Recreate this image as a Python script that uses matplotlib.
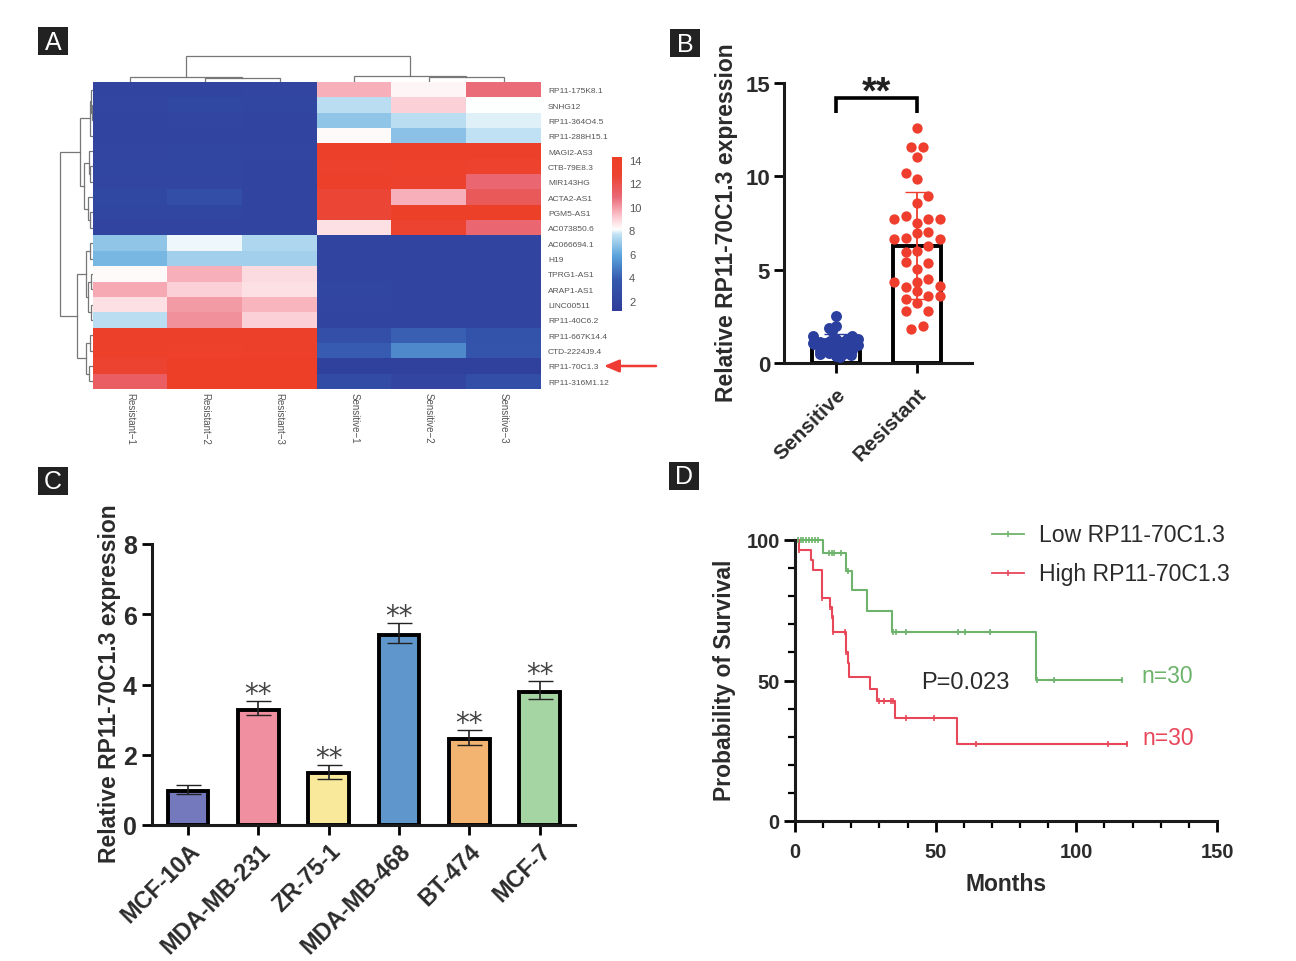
import numpy as np
import matplotlib.pyplot as plt
from matplotlib.colors import LinearSegmentedColormap, Normalize

plt.rcParams['font.family'] = ['Liberation Sans', 'DejaVu Sans']

W, H = 1296, 962

# panel A
genes = ['RP11-175K8.1', 'SNHG12', 'RP11-364O4.5', 'RP11-288H15.1', 'MAGI2-AS3', 'CTB-79E8.3',
         'MIR143HG', 'ACTA2-AS1', 'PGM5-AS1', 'AC073850.6', 'AC066694.1', 'H19', 'TPRG1-AS1',
         'ARAP1-AS1', 'LINC00511', 'RP11-40C6.2', 'RP11-667K14.4', 'CTD-2224J9.4', 'RP11-70C1.3',
         'RP11-316M1.12']
samples = ['Resistant-1', 'Resistant-2', 'Resistant-3', 'Sensitive-1', 'Sensitive-2', 'Sensitive-3']
heat = [[2.0, 2.0, 2.1, 9.6, 8.3, 10.8],
        [2.1, 2.3, 2.2, 7.5, 9.0, 8.1],
        [2.0, 2.1, 2.0, 6.8, 7.5, 7.9],
        [2.0, 2.0, 2.0, 8.2, 6.7, 7.6],
        [2.1, 2.2, 2.1, 13.6, 13.6, 13.6],
        [2.2, 2.2, 2.0, 13.4, 13.5, 13.2],
        [2.1, 2.1, 2.0, 13.6, 13.3, 11.0],
        [2.3, 2.9, 2.0, 12.6, 9.6, 11.6],
        [2.2, 2.2, 2.0, 12.6, 13.8, 13.8],
        [2.0, 2.0, 2.0, 8.7, 13.0, 11.0],
        [6.8, 8.0, 7.3, 2.0, 2.0, 2.0],
        [6.4, 7.1, 7.1, 2.0, 2.0, 2.0],
        [8.2, 9.6, 8.8, 2.0, 2.0, 2.0],
        [9.7, 9.0, 8.7, 2.2, 2.0, 2.0],
        [8.7, 10.0, 9.5, 2.1, 2.0, 2.0],
        [7.5, 10.2, 9.0, 2.0, 2.0, 2.0],
        [13.7, 13.6, 13.7, 3.0, 4.0, 3.3],
        [13.6, 13.5, 13.7, 3.9, 5.1, 3.4],
        [13.0, 14.0, 14.0, 1.7, 1.7, 1.7],
        [11.4, 14.0, 14.0, 2.7, 2.1, 2.9]]
cbar_ticks = [2, 4, 6, 8, 10, 12, 14]
# nested merges: (height, left, right), an int is a leaf
col_tree = (26, (5, 0, (4, 1, 2)), (6, 3, (5, 4, 5)))
row_tree = (33,
            (13, (3, (2, 0, (1, 1, 2)), 3),
             (9, (4, 4, (3, 5, 6)), (5, 7, (3, 8, 9)))),
            (16, (7, (3, 10, 11), (5, (2, 12, 13), (2, 14, 15))),
             (7, (3, 16, 17), (4, 18, 19))))

# panel B
sens_mean, sens_up, sens_low = 1.1, 1.55, 0.6
res_mean, res_up, res_low = 6.25, 9.14, 3.42
sens_off = [0, 0, -.09, -.05, -.28, -.28, -.2, -.14, -.07, 0, .07, .14, .2, .27, -.27, -.2, -.14, -.07, 0,
            .07, .14, .2, .27, -.2, -.14, -.05, .02, .1, .2, -.2, -.09, 0, .09, .18, .05]
sens_val = [2.5, 1.98, 1.85, 1.72, 1.42, 1.08, 1.15, 1.05, 1.2, 1.3, 1.12, 1.28, 1.42, 1.3, 1.0, 0.98, .92,
            .95, 1.02, .92, .98, 1.0, .95, .62, .72, .68, .75, .62, .7, .48, .55, .35, .5, .42, .3]
res_off = [0, -.07, .07, 0, -.14, 0, .14, 0, -.28, -.14, .14, .28, 0, 0, .14, -.28, -.14, .28, .14, -.14, 0,
           -.14, .14, 0, -.28, 0, .14, -.14, .28, 0, .14, .28, -.14, 0, -.14, .14, -.07, .07]
res_val = [12.59, 11.57, 11.57, 11.02, 10.2, 9.87, 8.96, 8.59, 7.71, 7.87, 7.73, 7.7, 7.52, 6.94, 7.02, 6.66,
           6.68, 6.66, 6.27, 5.96, 6.02, 5.39, 5.36, 5.03, 4.36, 4.34, 4.5, 4.07, 4.11, 3.84, 3.57, 3.57, 3.45,
           3.2, 2.79, 2.77, 1.84, 2.0]

# panel C
cells = ['MCF-10A', 'MDA-MB-231', 'ZR-75-1', 'MDA-MB-468', 'BT-474', 'MCF-7']
cell_val = [0.98, 3.27, 1.47, 5.42, 2.45, 3.8]
cell_up = [1.14, 3.53, 1.7, 5.75, 2.7, 4.1]
cell_low = [0.88, 3.13, 1.3, 5.18, 2.28, 3.6]
cell_col = ['#7479bd', '#f08fa0', '#f9e99a', '#5f97cc', '#f3b472', '#a5d5a2']
cell_sig = ['', '**', '**', '**', '**', '**']

# panel D
low_t = [0, 10.1, 18.1, 20.2, 25.5, 34.4, 85.7, 116.3]
low_s = [100, 95.3, 89, 82.2, 74.7, 67.1, 50.3, 50.3]
low_cens_t = [1, 2, 3, 4, 5, 6, 7, 8, 12, 13, 14, 16.3, 18.7, 35, 36, 39.5, 58, 60.5, 69.4, 86, 92, 116.3]
high_t = [0, 1.5, 5.6, 6.5, 9.7, 12.4, 13, 13.6, 18, 18.7, 19.2, 26.7, 29, 35.4, 57.6, 118]
high_s = [100, 96.6, 93, 89.4, 79.2, 76.3, 73, 67.4, 60, 56.4, 51.4, 47, 42.8, 36.8, 27.4, 27.4]
high_cens_t = [1.5, 9.7, 12.4, 13, 13.6, 17.6, 18.3, 30, 31.5, 34, 35, 39.5, 49.5, 64.5, 111.3, 118]

GREEN = '#6db36b'
RED = '#e8475a'
TXT = '#2b2b2b'


def px_axes(x0, y0, x1, y1):
    return fig.add_axes([x0 / W, 1 - y1 / H, (x1 - x0) / W, (y1 - y0) / H])


def draw_tree(ax, node, horizontal):
    # returns leaf position and height of a merge, and draws the bracket
    if isinstance(node, int):
        return node + 0.5, 0
    h, a, b = node
    pa, ha = draw_tree(ax, a, horizontal)
    pb, hb = draw_tree(ax, b, horizontal)
    xs = [pa, pa, pb, pb]
    ys = [ha, h, h, hb]
    if horizontal:
        ax.plot(xs, ys, color='#777777', lw=0.9, solid_joinstyle='miter')
    else:
        ax.plot(ys, xs, color='#777777', lw=0.9, solid_joinstyle='miter')
    return (pa + pb) / 2, h


def style_axis(ax, lw=2.2):
    for s in ['top', 'right']:
        ax.spines[s].set_visible(False)
    for s in ['left', 'bottom']:
        ax.spines[s].set_linewidth(lw)
        ax.spines[s].set_color('#1a1a1a')
    ax.patch.set_alpha(0)


fig = plt.figure(figsize=(W / 100, H / 100), dpi=100)

# overlay in pixels, for the panel letters and the arrow
over = fig.add_axes([0, 0, 1, 1], zorder=5)
over.set_xlim(0, W)
over.set_ylim(H, 0)
over.axis('off')
for letter, lx, ly in [('A', 38, 28), ('B', 670, 30), ('C', 38, 468), ('D', 669, 463)]:
    over.add_patch(plt.Rectangle((lx, ly), 30, 28, color='#222222', lw=0))
    over.text(lx + 15, ly + 14.5, letter, color='white', fontsize=18, ha='center', va='center')

# A: heatmap
cmap = LinearSegmentedColormap.from_list('heat', [(0, '#2f3c9a'), (0.2, '#3558ae'), (0.36, '#5ba5dc'),
                                                  (0.5, '#c5e4f5'), (0.53, '#ffffff'), (0.62, '#fbc4cc'),
                                                  (0.74, '#ea6a78'), (0.88, '#ec4433'), (1, '#ee3f26')])
norm = Normalize(1.15, 14.25)
ax = px_axes(93, 83, 541, 390)
ax.imshow(np.array(heat), cmap=cmap, norm=norm, aspect='auto', interpolation='nearest')
ax.yaxis.tick_right()
ax.set_yticks(range(len(genes)))
ax.set_yticklabels(genes, fontsize=6, color='#555555')
ax.set_xticks(range(len(samples)))
ax.set_xticklabels([s.replace('-', '\u2212') for s in samples], rotation=-90, fontsize=7, color='#555555')
ax.tick_params(axis='y', length=0, pad=5)
ax.tick_params(axis='x', length=0, pad=2)
for s in ax.spines.values():
    s.set_visible(False)

top = px_axes(93, 50, 541, 83)
top.set_xlim(0, 6)
top.set_ylim(0, 33)
top.axis('off')
draw_tree(top, col_tree, True)
left = px_axes(53, 83, 93, 390)
left.set_xlim(40, 0)
left.set_ylim(20, 0)
left.axis('off')
draw_tree(left, row_tree, False)

cax = px_axes(612, 158, 622, 312)
cax.imshow(np.linspace(14.25, 1.15, 256)[:, None], cmap=cmap, norm=norm, aspect='auto',
           extent=[0, 1, 1.15, 14.25])
cax.set_xticks([])
cax.yaxis.tick_right()
cax.set_yticks(cbar_ticks)
cax.tick_params(length=0, labelsize=8, labelcolor='#555555', pad=5)
for s in cax.spines.values():
    s.set_visible(False)

over.annotate('', xy=(604, 367), xytext=(656, 367),
              arrowprops=dict(arrowstyle='-|>,head_length=0.9,head_width=0.38', color='#ee3b33', lw=1.8,
                              shrinkA=0, shrinkB=0))

# B: bars with dots
ax = px_axes(784, 84, 972, 364)
ax.set_xlim(1 - 52 / 81, 1 + 136 / 81)
ax.set_ylim(0, 15)
ax.bar([1, 2], [sens_mean, res_mean], width=0.6, facecolor='white', edgecolor='black', linewidth=2.8, zorder=1)
ax.errorbar([1], [sens_mean], yerr=[[sens_mean - sens_low], [sens_up - sens_mean]], color='#2b3f9e', capsize=9,
            lw=1.3, zorder=3)
ax.errorbar([2], [res_mean], yerr=[[res_mean - res_low], [res_up - res_mean]], color='#ef3e2e', capsize=9,
            lw=1.3, zorder=3)
ax.scatter(1 + np.array(sens_off), sens_val, s=62, color='#2b3f9e', linewidths=0, zorder=4, clip_on=False)
ax.scatter(2 + np.array(res_off), res_val, s=55, color='#ef3e2e', linewidths=0, zorder=4, clip_on=False)
ax.plot([1, 1, 2, 2], [13.4, 14.2, 14.2, 13.4], color='black', lw=2.6, solid_joinstyle='miter',
        solid_capstyle='butt')
ax.text(1.5, 14.5, '**', fontsize=27, fontweight='bold', ha='center', va='center', color='#222222')
style_axis(ax)
ax.set_yticks([0, 5, 10, 15])
ax.set_xticks([1, 2])
ax.set_xticklabels(['Sensitive', 'Resistant'], rotation=45, ha='right', rotation_mode='anchor')
ax.tick_params(width=2, length=7, labelsize=15, labelcolor=TXT, pad=8)
for t in ax.get_xticklabels() + ax.get_yticklabels():
    t.set_fontweight('bold')
ax.tick_params(axis='y', labelsize=16, pad=3)
over.text(726, 223, 'Relative RP11-70C1.3 expression', rotation=90, fontsize=16.5, fontweight='bold', color=TXT,
          ha='center', va='center')

# C: cell lines
ax = px_axes(152, 545, 575, 826)
ax.set_xlim(1 - 36 / 70.3, 1 + 387 / 70.3)
ax.set_ylim(0, 8)
pos = np.arange(1, 7)
ax.bar(pos, cell_val, width=0.58, color=cell_col, edgecolor='black', linewidth=2.8, zorder=2)
ax.errorbar(pos, cell_val, yerr=[np.array(cell_val) - cell_low, np.array(cell_up) - cell_val], fmt='none',
            ecolor='#222222', capsize=9, lw=1.2, zorder=3)
for p, u, sig in zip(pos, cell_up, cell_sig):
    ax.text(p, u + 0.2, sig, fontsize=20, family='DejaVu Sans', ha='center', va='center', color='#444444')
style_axis(ax)
ax.set_yticks([0, 2, 4, 6, 8])
ax.set_xticks(pos)
ax.set_xticklabels(cells, rotation=45, ha='right', rotation_mode='anchor')
ax.tick_params(width=2, length=7, labelsize=16.8, labelcolor=TXT, pad=3)
for t in ax.get_xticklabels() + ax.get_yticklabels():
    t.set_fontweight('bold')
ax.tick_params(axis='y', labelsize=18, pad=4)
over.text(110, 684, 'Relative RP11-70C1.3 expression', rotation=90, fontsize=16.5, fontweight='bold', color=TXT,
          ha='center', va='center')

# D: survival
ax = px_axes(795, 541, 1217, 822)
ax.set_xlim(0, 150)
ax.set_ylim(0, 100)
ax.step(low_t, low_s, where='post', color=GREEN, lw=1.5, clip_on=False)
ax.step(high_t, high_s, where='post', color=RED, lw=1.5, clip_on=False)
low_cens = [low_s[np.searchsorted(low_t, t, side='right') - 1] for t in low_cens_t]
high_cens = [high_s[np.searchsorted(high_t, t, side='right') - 1] for t in high_cens_t]
ax.plot(low_cens_t, low_cens, ls='none', marker='|', ms=5, mew=1.2, color=GREEN, clip_on=False)
ax.plot(high_cens_t, high_cens, ls='none', marker='|', ms=5, mew=1.2, color=RED, clip_on=False)
style_axis(ax)
ax.set_xticks([0, 50, 100, 150])
ax.set_yticks([0, 50, 100])
ax.set_xticks(np.arange(0, 151, 10), minor=True)
ax.set_yticks(np.arange(0, 101, 10), minor=True)
ax.tick_params(which='major', width=2, length=8, labelsize=14.5, labelcolor=TXT, pad=7)
ax.tick_params(axis='y', which='major', pad=3)
ax.tick_params(which='minor', width=1.6, length=5)
for t in ax.get_xticklabels() + ax.get_yticklabels():
    t.set_fontweight('bold')
ax.set_xlabel('Months', fontsize=16.5, fontweight='bold', color=TXT, labelpad=8)
over.text(724, 680, 'Probability of Survival', rotation=90, fontsize=16.5, fontweight='bold', color=TXT,
          ha='center', va='center')
over.text(921, 683, 'P=0.023', fontsize=17, color=TXT, va='center')
over.text(1141, 677, 'n=30', fontsize=16.5, color=GREEN, va='center')
over.text(1142, 739, 'n=30', fontsize=16.5, color=RED, va='center')
for name, col, ly in [('Low RP11-70C1.3', GREEN, 535), ('High RP11-70C1.3', RED, 574)]:
    over.plot([992, 1024], [ly, ly], color=col, lw=1.3)
    over.plot([1008], [ly], marker='|', ms=5, mew=1.1, color=col)
    over.text(1039, ly + 1, name, fontsize=16.6, color=TXT, va='center')

fig.savefig('out.png', dpi=100, facecolor='white')
